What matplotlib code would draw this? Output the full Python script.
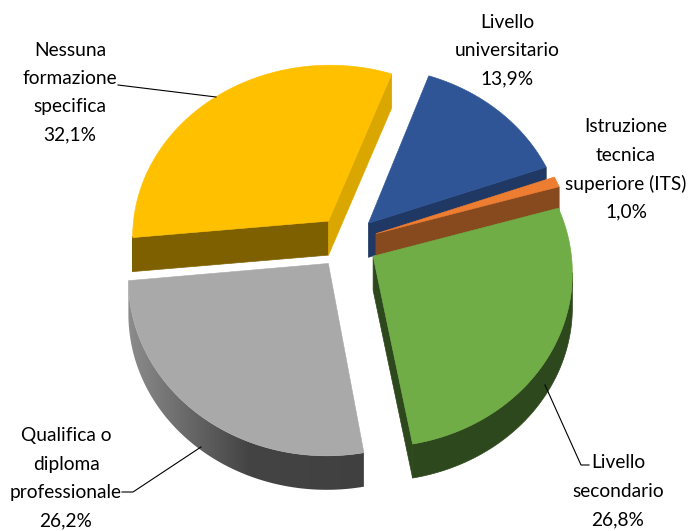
import numpy as np
import matplotlib.pyplot as plt
from matplotlib.patches import Polygon
from matplotlib.colors import LinearSegmentedColormap

categories = ["Livello\nuniversitario", "Istruzione\ntecnica\nsuperiore (ITS)", "Livello\nsecondario",
              "Qualifica o\ndiploma\nprofessionale", "Nessuna\nformazione\nspecifica"]
values = [13.9, 1.0, 26.8, 26.2, 32.1]
top_colors = ["#2F5597", "#ED7D31", "#70AD47", "#A9A9A9", "#FFC000"]
wall_colors = ["#1F3864", "#843C1C", "#2E481D", "#808080", "#7F6000"]
cut_colors = ["#1F3864", "#864A1E", "#2E481D", "#444444", "#DAA600"]
label_pos = [(507, 22), (626, 127), (618, 463), (66, 436), (70, 50)]

# pie geometry in pixels
cx, cy = 347, 242
R, flat, persp = 197, 0.875, 0.084
explode = 0.155
depth = 34
start = 20.0


def project(u, v, z=0.0):
    # tilted plane with a little perspective, z goes down from the top face
    s = 1 / (1 + persp * v)
    return cx + R * u * s, cy - R * flat * v * s + depth * z


fig = plt.figure(figsize=(6.88, 5.31), dpi=100)
ax = fig.add_axes([0, 0, 1, 1])

# angles clockwise from the top
spans = np.array(values) / sum(values) * 360
t1 = start + np.concatenate([[0], np.cumsum(spans)[:-1]])
t2 = t1 + spans
fade = LinearSegmentedColormap.from_list("fade", ["#8E8E8E", "#444444", "#404040"])

z = 1
# back slices first so the front ones sit on top
for i in [4, 0, 1, 2, 3]:
    mid = np.radians((t1[i] + t2[i]) / 2)
    ou, ov = explode * np.sin(mid), explode * np.cos(mid)
    th = np.radians(np.linspace(t1[i], t2[i], int(spans[i] * 2) + 4))
    us = ou + np.sin(th)
    vs = ov + np.cos(th)
    apex = project(ou, ov)
    apex_low = project(ou, ov, 1)

    # straight cut faces, only the ones turned to the viewer
    for k, tag in [(0, "start"), (-1, "end")]:
        rim = project(us[k], vs[k])
        rim_low = project(us[k], vs[k], 1)
        dx = rim[0] - apex[0]
        if (tag == "end" and dx > 0) or (tag == "start" and dx < 0):
            col = wall_colors[i] if tag == "start" else cut_colors[i]
            ax.add_patch(Polygon([apex, rim, rim_low, apex_low], closed=True, fc=col, ec=col, lw=0.5, zorder=z))
            z += 1

    # outer wall is the stretch of rim that runs right to left on screen
    rim_pts = [project(u, v) for u, v in zip(us, vs)]
    low_pts = [project(u, v, 1) for u, v in zip(us, vs)]
    front = [a for a in range(len(th)) if a + 1 < len(th) and rim_pts[a + 1][0] < rim_pts[a][0]]
    if front:
        idx = front + [front[-1] + 1]
        wall = [rim_pts[a] for a in idx] + [low_pts[a] for a in idx[::-1]]
        if i == 3:
            # grey wall darkens going right
            patch = Polygon(wall, closed=True, fc="none", ec="none", zorder=z)
            ax.add_patch(patch)
            img = ax.imshow(np.linspace(0, 1, 256).reshape(1, -1), cmap=fade, aspect="auto",
                            extent=[125, 372, 531, 0], zorder=z)
            img.set_clip_path(patch)
        else:
            ax.add_patch(Polygon(wall, closed=True, fc=wall_colors[i], ec=wall_colors[i], lw=0.5, zorder=z))
        z += 1

    ax.add_patch(Polygon([apex] + rim_pts, closed=True, fc=top_colors[i], ec=top_colors[i], lw=0.4, zorder=z))
    z += 1

# leader lines
ax.plot([118, 216], [85, 97], color="black", lw=0.8, zorder=z)
ax.plot([122, 133, 201], [492, 492, 447], color="black", lw=0.8, zorder=z)
ax.plot([545, 581, 589], [385, 465, 465], color="black", lw=0.8, zorder=z)

for name, val, (x, y) in zip(categories, values, label_pos):
    lines = name.split("\n") + [f"{val:.1f}%".replace(".", ",")]
    for n, line in enumerate(lines):
        ax.text(x, y + n * 28.4, line, ha="center", va="center", fontsize=13.8,
                family="Lato", color="black", zorder=z)

ax.set_xlim(0, 688)
ax.set_ylim(531, 0)
ax.axis("off")
fig.savefig("out.png", dpi=100)
